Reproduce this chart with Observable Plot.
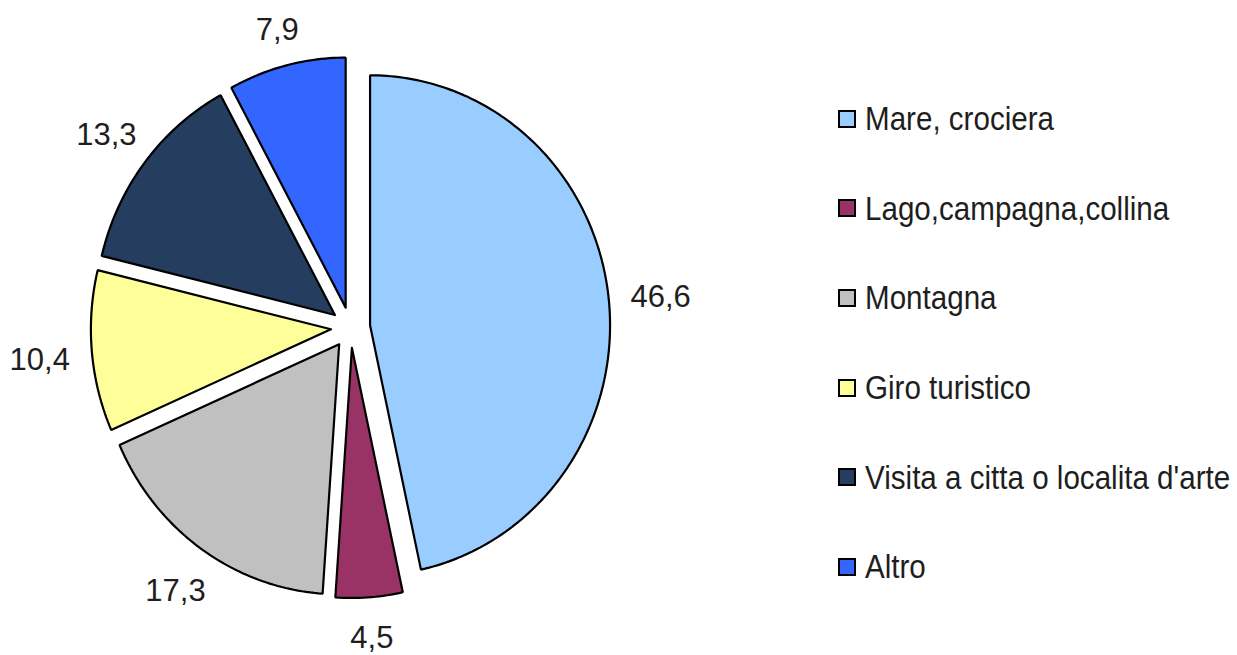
<!DOCTYPE html>
<html>
<head>
<meta charset="utf-8">
<script src="https://cdn.jsdelivr.net/npm/d3@7"></script>
<script src="https://cdn.jsdelivr.net/npm/@observablehq/plot@0.6"></script>
<style>
  html, body { margin: 0; padding: 0; background: #fff; overflow: hidden; }
  #wrap { position: relative; width: 1237px; height: 655px; }
  #chart svg { display: block; }
  #legend { position: absolute; left: 838px; top: 74px; font-family: "Liberation Sans", Arial, sans-serif; font-size: 34px; color: #1e1e1e; }
  .row { height: 89.6px; display: flex; align-items: center; white-space: nowrap; }
  .sw { width: 18px; height: 18px; box-sizing: border-box; border: 2.5px solid #000; margin-right: 9px; flex: none; }
  .tx { display: inline-block; transform: scaleX(0.87); transform-origin: left center; }
</style>
</head>
<body>
<div id="wrap">
  <div id="chart"></div>
  <div id="legend"></div>
</div>
<script>
const categories = ["Mare, crociera", "Lago,campagna,collina", "Montagna", "Giro turistico", "Visita a citta o localita d'arte", "Altro"];
const values = [46.6, 4.5, 17.3, 10.4, 13.3, 7.9];
const valueLabels = ["46,6", "4,5", "17,3", "10,4", "13,3", "7,9"];
const colors = ["#99CCFF", "#993366", "#C0C0C0", "#FFFF99", "#253D5E", "#3366FF"];

const explode = 0.082;
const arcs = d3.pie().sort(null).value(d => d)(values);

const slicePts = [];
const labelPts = [];
arcs.forEach((a, i) => {
  const mid = (a.startAngle + a.endAngle) / 2;
  const ox = explode * Math.sin(mid), oy = explode * Math.cos(mid);
  slicePts.push({name: categories[i], x: ox, y: oy});
  const n = Math.max(8, Math.ceil((a.endAngle - a.startAngle) * 180 / Math.PI));
  for (let k = 0; k <= n; k++) {
    const t = a.startAngle + (a.endAngle - a.startAngle) * k / n;
    slicePts.push({name: categories[i], x: ox + Math.sin(t), y: oy + Math.cos(t)});
  }
  slicePts.push({name: categories[i], x: ox, y: oy});
  const r = 1.225 + 0.075 * Math.abs(Math.sin(mid));
  labelPts.push({label: valueLabels[i], x: r * Math.sin(mid), y: r * Math.cos(mid)});
});

const chart = Plot.plot({
  width: 1237,
  height: 655,
  margin: 0,
  x: {domain: [-1, 1], range: [110, 590], axis: null},
  y: {domain: [-1, 1], range: [577, 77], axis: null},
  color: {domain: categories, range: colors},
  style: {background: "transparent"},
  marks: [
    Plot.line(slicePts, {x: "x", y: "y", z: "name", fill: "name", stroke: "#000", strokeWidth: 2.2, strokeLinejoin: "miter", curve: "linear"}),
    Plot.text(labelPts, {x: "x", y: "y", text: "label", fontSize: 31, fill: "#1e1e1e", fontFamily: "'Liberation Sans', Arial, sans-serif", textAnchor: "middle", lineAnchor: "middle", dy: 4})
  ]
});
document.getElementById("chart").append(chart);

const legend = document.getElementById("legend");
categories.forEach((c, i) => {
  const row = document.createElement("div");
  row.className = "row";
  const sw = document.createElement("span");
  sw.className = "sw";
  sw.style.background = colors[i];
  const tx = document.createElement("span");
  tx.className = "tx";
  tx.textContent = c;
  row.append(sw, tx);
  legend.append(row);
});
</script>
</body>
</html>
